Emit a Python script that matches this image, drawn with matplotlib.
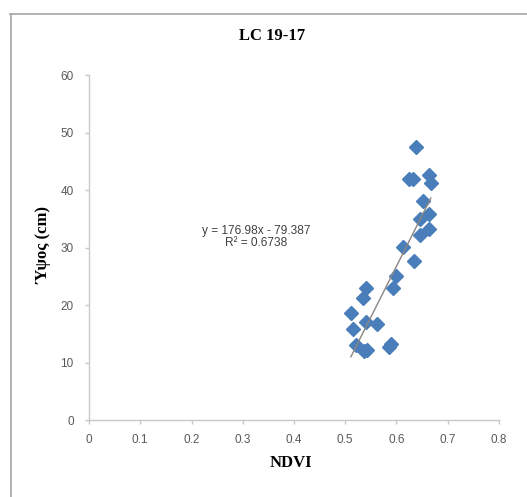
import numpy as np
import matplotlib
matplotlib.use("Agg")
import matplotlib.pyplot as plt
from matplotlib.lines import Line2D

# values (NDVI vs height)
ndvi = [0.639, 0.624, 0.632, 0.664, 0.667, 0.652, 0.664, 0.646, 0.664, 0.645,
        0.612, 0.634, 0.600, 0.593, 0.540, 0.534, 0.511, 0.541, 0.561, 0.515,
        0.521, 0.536, 0.543, 0.585, 0.589]
height = [47.6, 42.0, 42.0, 42.7, 41.2, 38.1, 35.9, 35.0, 33.2, 32.2,
          30.1, 27.7, 25.1, 23.0, 23.0, 21.3, 18.6, 17.1, 16.7, 15.8,
          13.1, 12.0, 12.2, 12.8, 13.3]

# trendline as printed on the chart
slope = 176.98
intercept = -79.387
eq_text = "y = 176.98x - 79.387"
r2_text = "R² = 0.6738"

xticks = [0, 0.1, 0.2, 0.3, 0.4, 0.5, 0.6, 0.7, 0.8]
xtick_labels = ["0", "0.1", "0.2", "0.3", "0.4", "0.5", "0.6", "0.7", "0.8"]
yticks = [0, 10, 20, 30, 40, 50, 60]

W, H = 527, 497
fig = plt.figure(figsize=(W / 100, H / 100), dpi=100)
ax = fig.add_axes([89 / W, 1 - 420.3 / H, 410 / W, 345 / H])

ax.plot(ndvi, height, linestyle="none", marker="D", ms=7,
        color="#4a7ebb", markeredgecolor="#4a7ebb")

xl = np.array([min(ndvi), max(ndvi)])
ax.plot(xl, slope * xl + intercept, color="#8a8580", lw=1.0)

ax.set_xlim(0, 0.8)
ax.set_ylim(0, 60)
ax.set_xticks(xticks)
ax.set_xticklabels(xtick_labels)
ax.set_yticks(yticks)

for s in ["top", "right"]:
    ax.spines[s].set_visible(False)
for s in ["left", "bottom"]:
    ax.spines[s].set_color("#c8c8c8")
    ax.spines[s].set_linewidth(1.0)
ax.tick_params(axis="both", colors="#c8c8c8", length=3, width=1.0,
               labelcolor="#595959", labelsize=8.5)
ax.tick_params(axis="y", pad=8)
ax.tick_params(axis="x", pad=7)
for lab in ax.get_xticklabels() + ax.get_yticklabels():
    lab.set_fontfamily("Liberation Sans")

ax.text(0.327, 32.9, eq_text, ha="center", va="center", fontsize=8.6,
        color="#404040", family="Liberation Sans")
ax.text(0.327, 30.8, r2_text, ha="center", va="center", fontsize=8.6,
        color="#404040", family="Liberation Sans")

fig.text(272 / W, 1 - 36 / H, "LC 19-17", ha="center", va="center",
         fontsize=12, fontweight="bold", family="Liberation Serif")
fig.text(291 / W, 1 - 463 / H, "NDVI", ha="center", va="center",
         fontsize=12, fontweight="bold", family="Liberation Serif")
fig.text(43 / W, 1 - 245 / H, "Ύψος (cm)", ha="center", va="center",
         rotation=90, fontsize=12, fontweight="bold", family="Liberation Serif")

# outer chart frame (top and left edges visible)
fig.add_artist(Line2D([10 / W, 1], [1 - 14 / H, 1 - 14 / H], color="#a6a6a6", lw=1.2))
fig.add_artist(Line2D([11 / W, 11 / W], [1 - 14 / H, 0], color="#a6a6a6", lw=1.2))

fig.savefig("out.png", dpi=100)
